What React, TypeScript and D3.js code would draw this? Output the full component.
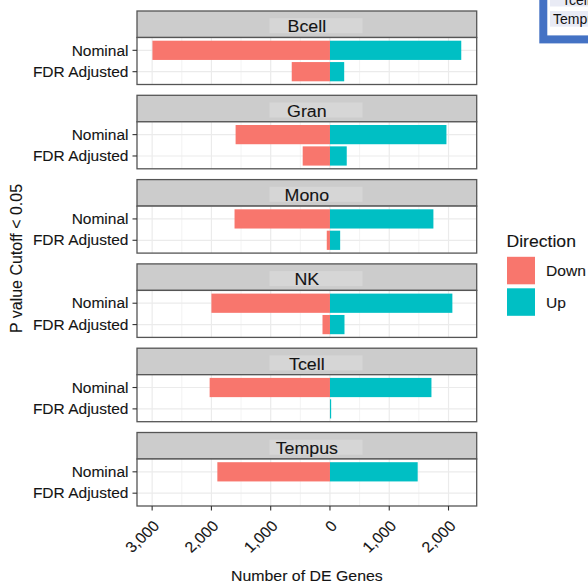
import React from "react";
import * as d3 from "d3";

const cellTypes = ["Bcell", "Gran", "Mono", "NK", "Tcell", "Tempus"];
const cutoffs = ["Nominal", "FDR Adjusted"];
const directions = ["Down", "Up"];
const nominalDown = [-2995, -1592, -1610, -2000, -2030, -1900];
const nominalUp = [2215, 1965, 1745, 2065, 1712, 1480];
const fdrDown = [-645, -460, -54, -126, 0, 0];
const fdrUp = [240, 283, 172, 245, 20, 0];
const xTicks = [-3000, -2000, -1000, 0, 1000, 2000];
const xMinor = [-2500, -1500, -500, 500, 1500];
const colors = ["#F8766D", "#00BFC4"];

const W = 588;
const H = 585;
const FONT = "'Liberation Sans', Arial, Helvetica, sans-serif";

const panelLeft = 137;
const panelRight = 476.7;
const top0 = 11;
const stripH = 26.5;
const panelH = 47;
const period = 84.3;
const INK = "#141414";
const SW = 0.1;

type TP = {
  x: number;
  y: number;
  size: number;
  sx?: number;
  anchor?: string;
  rotate?: number;
  fill?: string;
  dy?: string;
  children: React.ReactNode;
};
const T = ({ x, y, size, sx = 1.07, anchor = "start", rotate = 0, fill = INK, dy, children }: TP) => (
  <text
    transform={`translate(${x},${y}) scale(${sx},1) rotate(${rotate})`}
    textAnchor={anchor}
    fontSize={size}
    fontFamily={FONT}
    fill={fill}
    stroke={fill}
    strokeWidth={SW}
    dy={dy}
  >
    {children}
  </text>
);

export default function App() {
  const allVals = [...nominalDown, ...nominalUp, ...fdrDown, ...fdrUp];
  const lo = d3.min(allVals)!;
  const hi = d3.max(allVals)!;
  const pad = (hi - lo) * 0.05;
  const x = d3.scaleLinear().domain([lo - pad, hi + pad]).range([panelLeft, panelRight]);
  const fmt = d3.format(",");

  const rows = cellTypes.map((c, i) => ({
    cell: c,
    bars: [
      { cutoff: "Nominal", dir: 0, v: nominalDown[i] },
      { cutoff: "Nominal", dir: 1, v: nominalUp[i] },
      { cutoff: "FDR Adjusted", dir: 0, v: fdrDown[i] },
      { cutoff: "FDR Adjusted", dir: 1, v: fdrUp[i] },
    ],
  }));

  const gridMajor = "#EBEBEB";
  const bottom = top0 + 5 * period + stripH + panelH;

  return (
    <svg
      width={W}
      height={H}
      style={{ position: "absolute", left: 0, top: 0, background: "#fff" }}
    >
      <rect x={0} y={0} width={W} height={H} fill="#fff" />
      {rows.map((r, i) => {
        const sTop = top0 + i * period;
        const pTop = sTop + stripH;
        const pBot = pTop + panelH;
        const y = d3.scalePoint<string>().domain(cutoffs).range([pTop, pBot]).padding(0.6);
        const step = y.step();
        const bh = step * 0.9;
        return (
          <g key={r.cell}>
            <rect x={panelLeft} y={sTop} width={panelRight - panelLeft} height={stripH} fill="#CCCCCC" stroke="#555" strokeWidth={1.3} />
            <rect x={316 - 46.5} y={sTop + 7.2} width={93} height={15} fill="#D6D6D6" />
            <T x={(panelLeft + panelRight) / 2} y={sTop + 21.4} size={16.5} sx={1.08} anchor="middle">
              {r.cell}
            </T>
            <rect x={panelLeft} y={pTop} width={panelRight - panelLeft} height={panelH} fill="#fff" />
            {xMinor.map((t) => (
              <line key={"m" + t} x1={x(t)} x2={x(t)} y1={pTop} y2={pBot} stroke={gridMajor} strokeWidth={0.6} />
            ))}
            {xTicks.map((t) => (
              <line key={"M" + t} x1={x(t)} x2={x(t)} y1={pTop} y2={pBot} stroke={gridMajor} strokeWidth={1.2} />
            ))}
            {cutoffs.map((c) => (
              <line key={"h" + c} x1={panelLeft} x2={panelRight} y1={y(c)!} y2={y(c)!} stroke={gridMajor} strokeWidth={1.2} />
            ))}
            {r.bars.map((b, j) => {
              const x0 = x(Math.min(0, b.v));
              const x1 = x(Math.max(0, b.v));
              return (
                <rect
                  key={j}
                  x={x0}
                  y={y(b.cutoff)! - bh / 2}
                  width={Math.max(0, x1 - x0)}
                  height={bh}
                  fill={colors[b.dir]}
                />
              );
            })}
            <rect x={panelLeft} y={pTop} width={panelRight - panelLeft} height={panelH} fill="none" stroke="#555" strokeWidth={1.3} />
            {cutoffs.map((c) => (
              <g key={"yt" + c}>
                <line x1={panelLeft - 4.5} x2={panelLeft} y1={y(c)!} y2={y(c)!} stroke="#333" strokeWidth={1.1} />
                <T x={128.5} y={y(c)! + 5.2} size={14.5} anchor="end">
                  {c}
                </T>
              </g>
            ))}
          </g>
        );
      })}
      {xTicks.map((t) => (
        <g key={"xt" + t}>
          <line x1={x(t)} x2={x(t)} y1={bottom} y2={bottom + 4.5} stroke="#333" strokeWidth={1.1} />
          <text
            transform={`translate(${x(t)},${bottom + 13.3}) scale(1.07,1) rotate(-45)`}
            textAnchor="end"
            fontSize={15}
            fontFamily={FONT}
            fill={INK}
            stroke={INK}
            strokeWidth={SW}
            dy="0.72em"
          >
            {fmt(Math.abs(t))}
          </text>
        </g>
      ))}
      <T x={(panelLeft + panelRight) / 2} y={581} size={15} sx={1.06} anchor="middle">
        Number of DE Genes
      </T>
      <text
        transform={`translate(22,258.5) scale(1.07,1) rotate(-90)`}
        textAnchor="middle"
        fontSize={16}
        fontFamily={FONT}
        fill={INK}
        stroke={INK}
        strokeWidth={SW}
      >
        P value Cutoff &lt; 0.05
      </text>
      <T x={506.5} y={247} size={16.3} sx={1.08}>
        Direction
      </T>
      {directions.map((d, i) => (
        <g key={d}>
          <rect x={507} y={256.8 + i * 31.5} width={28} height={27.5} fill={colors[i]} />
          <T x={546} y={276 + i * 31.5} size={15} sx={1.04}>
            {d}
          </T>
        </g>
      ))}
      <rect x={543.3} y={-10} width={60} height={49.4} fill="#fff" stroke="#4472C4" strokeWidth={8} />
      <rect x={550} y={0} width={40} height={6.5} fill="#E9EBF5" />
      <rect x={550} y={11} width={40} height={15.7} fill="#E9EBF5" />
      <text x={562} y={5} fontSize={14} fontFamily={FONT} fill="#111">
        Tcell
      </text>
      <text x={553} y={23.5} fontSize={14} fontFamily={FONT} fill="#111">
        Tempus
      </text>
    </svg>
  );
}
